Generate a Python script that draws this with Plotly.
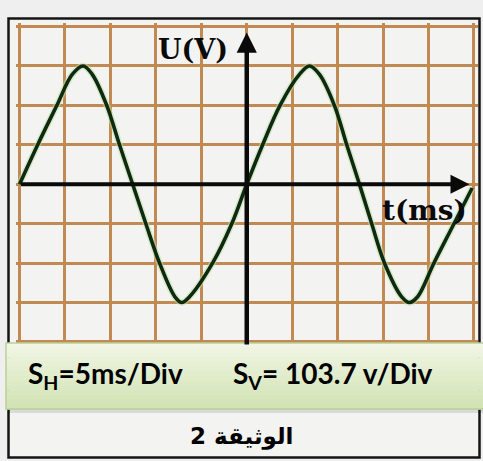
import plotly.graph_objects as go

# ---- data (t in ms, u in V) ----
t_ms = [-25, -23.0, -20.9, -19.2, -18.0, -17.0, -15.4, -14.0, -12.55,
        -11.1, -9.6, -7.9, -7.15, -6.3, -3.75, -1.65, 0,
        1.75, 3.65, 5.8, 6.9, 8.0, 9.65, 11.0, 12.4,
        13.75, 15.15, 17.05, 17.9, 18.8, 20.6, 22.8, 24.8]
u_V = [0, 104, 207, 289, 311, 289, 207, 104, 0,
       -104, -207, -296, -311, -296, -207, -104, 0,
       104, 207, 289, 311, 289, 207, 104, 0,
       -104, -207, -296, -311, -296, -207, -104, -10]

S_H = 5        # ms / div
S_V = 103.7    # V / div
N_X_DIV = 10
N_Y_DIV = 8
label_sens_h = "S<sub>H</sub>=5ms/Div"
label_sens_v = "S<sub>V</sub>= 103.7 v/Div"
label_u = "U(V)"
label_t = "t(ms)"
caption = "الوثيقة 2"

W, H = 483, 461
def px(x): return x / W
def py(y): return 1 - y / H

xr = (N_X_DIV / 2 + 0.08) * S_H
yr = (N_Y_DIV / 2 + 0.1) * S_V

fig = go.Figure()
fig.add_trace(go.Scatter(
    x=t_ms, y=u_V, mode="lines",
    line=dict(color="#bfe0a6", width=6.5, shape="spline", smoothing=1.0),
    opacity=0.55, hoverinfo="skip", showlegend=False))
fig.add_trace(go.Scatter(
    x=t_ms, y=u_V, mode="lines",
    line=dict(color="#0e2a10", width=3.6, shape="spline", smoothing=1.0),
    showlegend=False))

shapes = []
# outer black frame
shapes.append(dict(type="rect", xref="paper", yref="paper",
                   x0=px(8.5), x1=px(479.5), y0=py(457.5), y1=py(18.5),
                   line=dict(color="#151515", width=2.5), fillcolor="#f3f3f1",
                   layer="below"))
# green info box with vertical gradient (bands)
top, bot = 343, 409
nb = 14
c0 = (240, 245, 228)
c1 = (210, 227, 180)
for i in range(nb):
    f = i / (nb - 1)
    c = tuple(int(round(c0[k] + (c1[k] - c0[k]) * f)) for k in range(3))
    y0 = top + (bot - top) * i / nb
    y1 = top + (bot - top) * (i + 1) / nb + 0.6
    shapes.append(dict(type="rect", xref="paper", yref="paper",
                       x0=px(6), x1=px(495), y0=py(y1), y1=py(y0),
                       line=dict(width=0), fillcolor="rgb(%d,%d,%d)" % c))
# shadow under box
shapes.append(dict(type="rect", xref="paper", yref="paper",
                   x0=px(8), x1=px(495), y0=py(413), y1=py(409),
                   line=dict(width=0), fillcolor="rgba(0,0,0,0.10)"))
shapes.append(dict(type="rect", xref="paper", yref="paper",
                   x0=px(6), x1=px(495), y0=py(bot), y1=py(top),
                   line=dict(color="#bccf98", width=1.5), fillcolor="rgba(0,0,0,0)"))

annotations = []
# axes with arrows
annotations.append(dict(x=0, y=(N_Y_DIV / 2 - 0.15) * S_V, ax=0, ay=-yr,
                        xref="x", yref="y", axref="x", ayref="y", text="",
                        showarrow=True, arrowhead=2, arrowsize=0.9,
                        arrowwidth=4.5, arrowcolor="#0a0a0a", standoff=0))
annotations.append(dict(x=(N_X_DIV / 2 - 0.1) * S_H, y=0, ax=-N_X_DIV / 2 * S_H, ay=0,
                        xref="x", yref="y", axref="x", ayref="y", text="",
                        showarrow=True, arrowhead=2, arrowsize=0.9,
                        arrowwidth=4.2, arrowcolor="#0a0a0a", standoff=0))
annotations.append(dict(x=-5.9, y=355, xref="x", yref="y", text="<b>%s</b>" % label_u,
                        showarrow=False, xanchor="center", yanchor="middle",
                        font=dict(family="DejaVu Serif", size=27, color="#0a0a0a")))
annotations.append(dict(x=19.6, y=-68, xref="x", yref="y", text="<b>%s</b>" % label_t,
                        showarrow=False, xanchor="center", yanchor="middle",
                        font=dict(family="DejaVu Serif", size=28, color="#0a0a0a")))
# sensitivities
annotations.append(dict(x=px(26), y=py(375), xref="paper", yref="paper",
                        text="<b>%s</b>" % label_sens_h, showarrow=False,
                        xanchor="left", yanchor="middle",
                        font=dict(family="Lato", size=28, color="#000000")))
annotations.append(dict(x=px(231), y=py(375), xref="paper", yref="paper",
                        text="<b>%s</b>" % label_sens_v, showarrow=False,
                        xanchor="left", yanchor="middle",
                        font=dict(family="Lato", size=28, color="#000000")))
annotations.append(dict(x=px(242), y=py(436), xref="paper", yref="paper",
                        text="<b>%s</b>" % caption, showarrow=False,
                        xanchor="center", yanchor="middle",
                        font=dict(family="DejaVu Sans", size=23, color="#000000")))

fig.update_layout(
    width=W, height=H, margin=dict(l=0, r=0, t=0, b=0),
    paper_bgcolor="#efefef", plot_bgcolor="#f5f2ec",
    shapes=shapes, annotations=annotations, showlegend=False,
    xaxis=dict(domain=[px(15.9), px(477.6)], range=[-xr, xr],
               tick0=0, dtick=S_H, showticklabels=False, ticks="",
               showgrid=True, gridcolor="#c28a52", gridwidth=3.0,
               zeroline=False, showline=False, fixedrange=True),
    yaxis=dict(domain=[py(345.9), py(22.6)], range=[-yr, yr],
               tick0=0, dtick=S_V, showticklabels=False, ticks="",
               showgrid=True, gridcolor="#c28a52", gridwidth=3.0,
               zeroline=False, showline=False, fixedrange=True),
)
fig.write_html("out.html", config={"displayModeBar": False},
               post_script="document.body.style.margin='0';document.body.style.overflow='hidden';")
